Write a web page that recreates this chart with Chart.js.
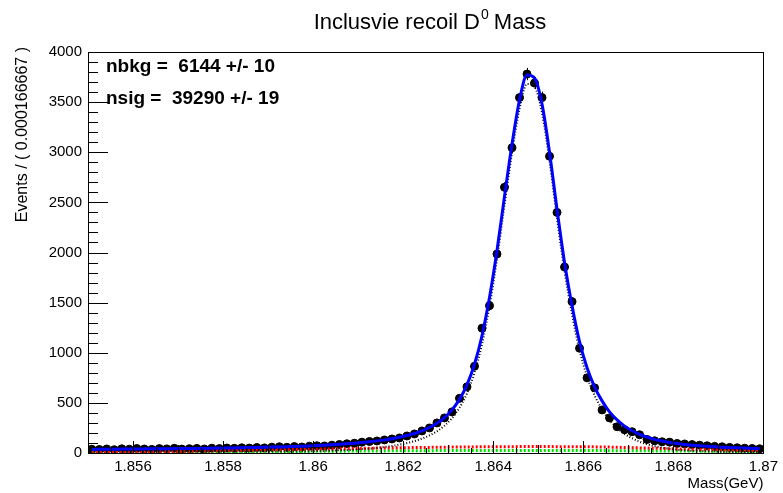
<!DOCTYPE html>
<html>
<head>
<meta charset="utf-8">
<script src="https://cdn.jsdelivr.net/npm/chart.js@4.4.1/dist/chart.umd.min.js"></script>
<style>
  body { margin: 0; background: #fff; }
  canvas { display: block; }
</style>
</head>
<body>
<canvas id="chart" width="783" height="493"></canvas>
<script>
var xMin = 1.855, xMax = 1.87, binWidth = 0.000166667;

// events per bin
var counts = [
  38, 35, 40, 33, 42, 38, 45, 40, 36, 44,
  41, 47, 39, 43, 46, 40, 48, 44, 50, 47,
  52, 49, 55, 51, 58, 62, 57, 64, 60, 68,
  72, 70, 78, 85, 92, 98, 108, 115, 120, 130,
  140, 150, 170, 190, 220, 250, 300, 350, 410, 545,
  660, 865, 1245, 1470, 1985, 2650, 3045, 3545, 3780, 3690,
  3545, 2960, 2400, 1855, 1510, 1045, 750, 650, 430, 350,
  262, 232, 212, 182, 135, 122, 112, 108, 95, 90,
  84, 78, 72, 66, 62, 56, 52, 48, 45, 42
];

// total fit (blue)
var fitTotal = [
  36, 37, 38, 38, 39, 40, 40, 41, 42, 42,
  43, 44, 45, 45, 46, 47, 48, 49, 50, 51,
  52, 54, 55, 57, 59, 61, 63, 65, 68, 71,
  74, 78, 82, 87, 92, 98, 105, 112, 121, 131,
  143, 157, 174, 195, 221, 254, 297, 354, 430, 535,
  680, 885, 1170, 1550, 2020, 2560, 3080, 3520, 3770, 3740,
  3480, 3000, 2430, 1900, 1470, 1110, 850, 660, 520, 410,
  330, 268, 222, 186, 158, 136, 119, 105, 94, 85,
  78, 72, 67, 62, 58, 55, 52, 49, 47, 45
];

// signal component (black dotted)
var fitSignal = [
  31, 31, 30, 29, 28, 28, 26, 26, 24, 23,
  22, 22, 21, 19, 18, 18, 17, 17, 15, 15,
  14, 15, 14, 14, 14, 15, 15, 15, 16, 18,
  19, 21, 23, 27, 29, 34, 39, 44, 51, 60,
  70, 83, 99, 118, 143, 175, 216, 272, 347, 451,
  594, 799, 1083, 1463, 1932, 2472, 2992, 3431, 3681, 3651,
  3391, 2911, 2342, 1812, 1383, 1024, 764, 575, 436, 328,
  250, 190, 147, 113, 87, 68, 53, 42, 33, 27,
  22, 19, 16, 14, 11, 11, 9, 9, 8, 9
];

// background components (red and green dotted)
var bkgRed = [
  3, 4, 5, 6, 7, 8, 9, 10, 12, 13,
  14, 15, 16, 18, 19, 20, 21, 22, 24, 25,
  26, 27, 28, 30, 31, 32, 33, 35, 36, 37,
  38, 40, 41, 42, 44, 45, 46, 48, 49, 50,
  51, 52, 53, 54, 55, 56, 57, 58, 59, 60,
  61, 61, 62, 62, 63, 63, 63, 64, 64, 64,
  64, 64, 63, 63, 63, 62, 62, 61, 60, 59,
  57, 55, 53, 51, 49, 47, 45, 43, 41, 39,
  37, 35, 33, 31, 30, 28, 27, 25, 24, 22
];
var bkgGreen = [
  2, 2, 3, 3, 4, 4, 5, 5, 6, 6,
  7, 7, 8, 8, 9, 9, 10, 10, 11, 11,
  12, 12, 13, 13, 14, 14, 15, 15, 16, 16,
  17, 17, 18, 18, 19, 19, 20, 20, 21, 21,
  22, 22, 22, 23, 23, 23, 24, 24, 24, 24,
  25, 25, 25, 25, 25, 25, 25, 25, 25, 25,
  25, 25, 25, 25, 24, 24, 24, 24, 24, 23,
  23, 23, 22, 22, 22, 21, 21, 20, 20, 19,
  19, 18, 18, 17, 17, 16, 16, 15, 15, 14
];

var xTicks = [1.856, 1.858, 1.86, 1.862, 1.864, 1.866, 1.868, 1.87];
var yTicks = [0, 500, 1000, 1500, 2000, 2500, 3000, 3500, 4000];
var fitText = ['nbkg =  6144 +/- 10', 'nsig =  39290 +/- 19'];

var centers = counts.map(function (c, i) { return xMin + (i + 0.5) * binWidth; });
function pts(arr) {
  return arr.map(function (v, i) { return { x: centers[i], y: v }; });
}

var FONT = '"Liberation Sans", Arial, sans-serif';

// error bars + ROOT style frame, inside ticks and texts
var rootStyle = {
  id: 'rootStyle',
  beforeDatasetsDraw: function (chart) {
    var ctx = chart.ctx, xs = chart.scales.x, ys = chart.scales.y;
    ctx.save();
    ctx.strokeStyle = '#000';
    ctx.lineWidth = 1;
    counts.forEach(function (v, i) {
      var err = Math.sqrt(v);
      var px = xs.getPixelForValue(centers[i]);
      var py = ys.getPixelForValue(v);
      ctx.beginPath();
      ctx.moveTo(Math.round(px) + 0.5, ys.getPixelForValue(v + err));
      ctx.lineTo(Math.round(px) + 0.5, ys.getPixelForValue(v - err));
      ctx.moveTo(xs.getPixelForValue(centers[i] - binWidth / 2), Math.round(py) + 0.5);
      ctx.lineTo(xs.getPixelForValue(centers[i] + binWidth / 2), Math.round(py) + 0.5);
      ctx.stroke();
    });
    ctx.restore();
  },
  afterDatasetsDraw: function (chart) {
    var ctx = chart.ctx, a = chart.chartArea, xs = chart.scales.x, ys = chart.scales.y;
    ctx.save();
    ctx.strokeStyle = '#000';
    ctx.lineWidth = 1;
    ctx.strokeRect(Math.round(a.left) + 0.5, Math.round(a.top) + 0.5,
                   Math.round(a.right - a.left), Math.round(a.bottom - a.top));
    ctx.beginPath();
    // y ticks every 100, major every 500
    for (var k = 0; k <= 40; k++) {
      var yy = Math.round(ys.getPixelForValue(k * 100)) + 0.5;
      var len = (k % 5 === 0) ? 20 : 10;
      ctx.moveTo(a.left, yy);
      ctx.lineTo(a.left + len, yy);
    }
    // x ticks every 0.0005
    for (var j = 0; j <= 30; j++) {
      var xx = Math.round(xs.getPixelForValue(xMin + j * 0.0005)) + 0.5;
      var l = (j % 4 === 2) ? 12 : (j % 2 === 0 ? 8 : 5);
      ctx.moveTo(xx, a.bottom);
      ctx.lineTo(xx, a.bottom - l);
    }
    ctx.stroke();
    ctx.restore();
  },
  afterDraw: function (chart) {
    var ctx = chart.ctx, a = chart.chartArea;
    ctx.save();
    ctx.fillStyle = '#000';
    // title with superscript
    var t1 = 'Inclusvie recoil D', sup = '0', t2 = ' Mass';
    ctx.font = '22px ' + FONT;
    var w1 = ctx.measureText(t1).width, w3 = ctx.measureText(t2).width;
    ctx.font = '14px ' + FONT;
    var w2 = ctx.measureText(sup).width;
    var x0 = 430 - (w1 + w2 + w3) / 2;
    ctx.textBaseline = 'alphabetic';
    ctx.textAlign = 'left';
    ctx.font = '22px ' + FONT;
    ctx.fillText(t1, x0, 29);
    ctx.font = '14px ' + FONT;
    ctx.fillText(sup, x0 + w1 + 1, 19);
    ctx.font = '22px ' + FONT;
    ctx.fillText(t2, x0 + w1 + w2, 29);

    // fit results
    ctx.font = 'bold 19px ' + FONT;
    ctx.textBaseline = 'middle';
    ctx.fillText(fitText[0], 106, 67);
    ctx.fillText(fitText[1], 106, 99);

    // axis titles
    ctx.font = '15px ' + FONT;
    ctx.textAlign = 'right';
    ctx.textBaseline = 'alphabetic';
    ctx.fillText('Mass(GeV)', a.right, 488);
    ctx.font = '16px ' + FONT;
    ctx.translate(27, a.top - 5);
    ctx.rotate(-Math.PI / 2);
    ctx.fillText('Events / ( 0.000166667 )', 0, 0);
    ctx.restore();
  }
};

var ctx = document.getElementById('chart');
var myChart = new Chart(ctx, {
  type: 'scatter',
  data: {
    datasets: [
      {
        type: 'line',
        label: 'total',
        data: pts(fitTotal),
        borderColor: '#0000ff',
        borderWidth: 3,
        pointRadius: 0,
        cubicInterpolationMode: 'monotone',
        order: 1
      },
      {
        type: 'line',
        label: 'signal',
        data: pts(fitSignal),
        borderColor: '#000',
        borderWidth: 2,
        borderDash: [1, 2],
        pointRadius: 0,
        cubicInterpolationMode: 'monotone',
        order: 2
      },
      {
        type: 'line',
        label: 'bkg1',
        data: pts(bkgRed),
        borderColor: '#ff0000',
        borderWidth: 3,
        borderDash: [2, 2],
        pointRadius: 0,
        cubicInterpolationMode: 'monotone',
        order: 3
      },
      {
        type: 'line',
        label: 'bkg2',
        data: pts(bkgGreen),
        borderColor: '#00dd00',
        borderWidth: 3,
        borderDash: [2, 2],
        pointRadius: 0,
        cubicInterpolationMode: 'monotone',
        order: 4
      },
      {
        label: 'data',
        data: pts(counts),
        backgroundColor: '#000',
        borderColor: '#000',
        pointRadius: 4,
        pointStyle: 'circle',
        order: 5
      }
    ]
  },
  options: {
    responsive: false,
    animation: false,
    devicePixelRatio: 1,
    layout: { padding: { left: 0, right: 14, top: 52, bottom: 0 } },
    plugins: {
      legend: { display: false },
      title: { display: false },
      tooltip: { enabled: false }
    },
    scales: {
      x: {
        type: 'linear',
        min: xMin,
        max: xMax,
        afterBuildTicks: function (scale) {
          scale.ticks = xTicks.map(function (v) { return { value: v }; });
        },
        afterFit: function (scale) { scale.height = 40; },
        grid: { display: false, drawTicks: false },
        border: { display: true, color: '#000' },
        ticks: {
          color: '#000',
          font: { family: FONT, size: 15 },
          padding: 5,
          maxRotation: 0,
          autoSkip: false,
          callback: function (v) { return String(v); }
        }
      },
      y: {
        type: 'linear',
        min: 0,
        max: 4000,
        afterBuildTicks: function (scale) {
          scale.ticks = yTicks.map(function (v) { return { value: v }; });
        },
        afterFit: function (scale) { scale.width = 88; },
        grid: { display: false, drawTicks: false },
        border: { display: true, color: '#000' },
        ticks: {
          color: '#000',
          font: { family: FONT, size: 15 },
          padding: 6,
          callback: function (v) { return String(v); }
        }
      }
    }
  },
  plugins: [rootStyle]
});
</script>
</body>
</html>
